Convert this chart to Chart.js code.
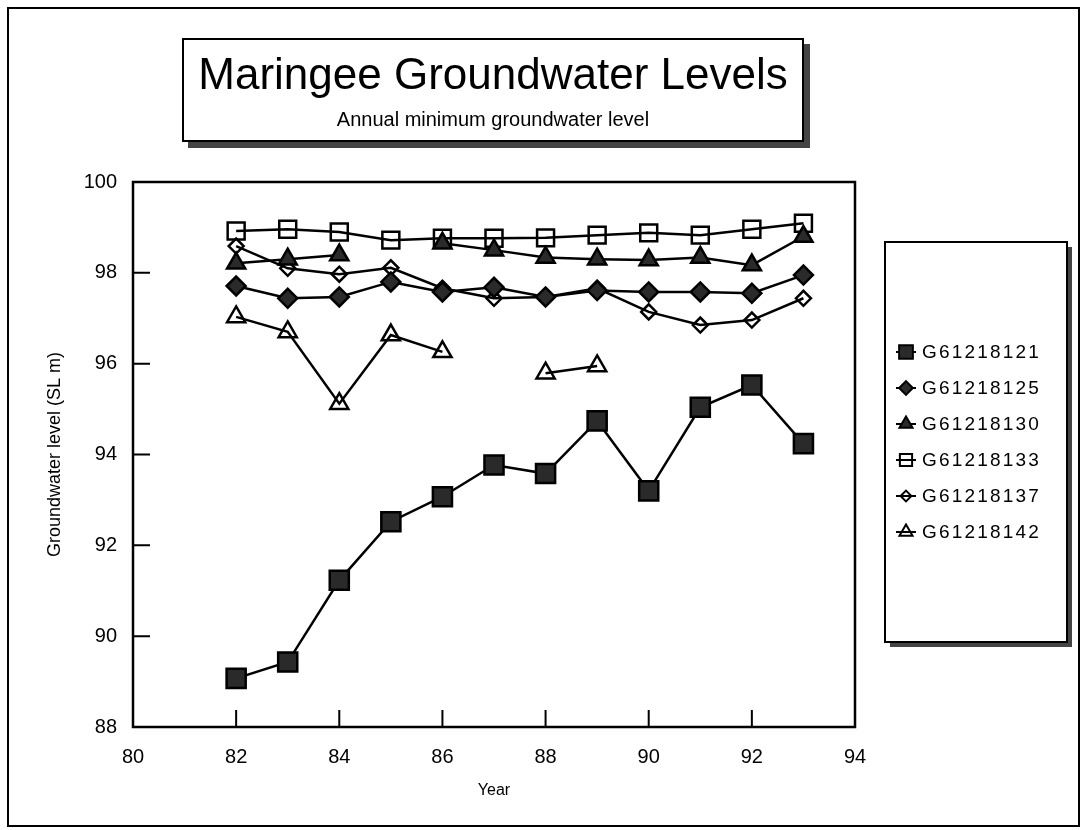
<!DOCTYPE html>
<html><head><meta charset="utf-8">
<script src="https://cdn.jsdelivr.net/npm/chart.js@4.4.0/dist/chart.umd.min.js"></script>
<style>
html,body{margin:0;padding:0;background:#fff;}
#wrap{position:relative;width:1087px;height:830px;overflow:hidden;}
#frame{position:absolute;left:7px;top:7px;width:1073px;height:820px;border:2px solid #000;box-sizing:border-box;pointer-events:none;}
#titlebox{position:absolute;left:182px;top:38px;width:622px;height:104px;border:2px solid #000;box-sizing:border-box;background:#fff;box-shadow:6px 6px 0 #444;font-family:"Liberation Sans",Arial,sans-serif;text-align:center;color:#000;}
#t1{font-size:44px;line-height:50px;margin-top:9px;white-space:nowrap;}
#t2{font-size:20px;line-height:22px;margin-top:9px;white-space:nowrap;}
canvas{position:absolute;left:0;top:0;}
</style></head>
<body><div id="wrap"><canvas id="c" width="1087" height="830"></canvas><div id="frame"></div>
<div id="titlebox"><div id="t1">Maringee Groundwater Levels</div><div id="t2">Annual minimum groundwater level</div></div></div>
<script>
const years = [82,83,84,85,86,87,88,89,90,91,92,93];
const seriesNames = ["G61218121","G61218125","G61218130","G61218133","G61218137","G61218142"];
const g121 = [89.07,89.43,91.23,92.52,93.07,93.77,93.58,94.74,93.20,95.04,95.53,94.24];
const g125 = [97.71,97.44,97.47,97.80,97.58,97.68,97.47,97.61,97.58,97.58,97.55,97.95];
const g130 = [98.21,98.30,98.39,null,98.65,98.50,98.34,98.30,98.28,98.34,98.17,98.80];
const g133 = [98.92,98.96,98.90,98.72,98.76,98.76,98.77,98.83,98.88,98.83,98.96,99.09];
const g137 = [98.59,98.10,97.97,98.11,97.66,97.44,97.47,97.66,97.14,96.85,96.96,97.44];
const g142 = [97.03,96.70,95.12,96.63,96.26,null,95.79,95.95,null,null,null,null];
const xTicks = [80,82,84,86,88,90,92,94];
const yTicks = [88,90,92,94,96,98,100];

const seriesValues = [g121,g125,g130,g133,g137,g142];
const markerStyles = [
  {pointStyle:'rect', radius:13.5, fill:'#2a2a2a'},
  {pointStyle:'rectRot', radius:9.5, fill:'#2a2a2a'},
  {pointStyle:'triangle', radius:10.5, fill:'#2a2a2a'},
  {pointStyle:'rect', radius:12, fill:'rgba(0,0,0,0)'},
  {pointStyle:'rectRot', radius:7.5, fill:'rgba(0,0,0,0)'},
  {pointStyle:'triangle', radius:10.5, fill:'rgba(0,0,0,0)'}
];
const FONT = '"Liberation Sans", Arial, sans-serif';

const datasets = seriesNames.map((name,i)=>({
  label:name,
  data: years.map((yr,j)=>({x:yr, y:seriesValues[i][j]})),
  borderColor:'#000', borderWidth:2.5,
  pointStyle:markerStyles[i].pointStyle,
  pointRadius:markerStyles[i].radius,
  pointBackgroundColor:markerStyles[i].fill,
  pointBorderColor:'#000', pointBorderWidth:2.5,
  spanGaps:false, tension:0, fill:false
}));

const frameTicks = {
  id:'frameTicks',
  beforeDatasetsDraw(chart){
    const {ctx, chartArea:a, scales:{x,y}} = chart;
    ctx.save();
    ctx.strokeStyle='#000';
    ctx.lineWidth=2.5;
    ctx.strokeRect(a.left,a.top,a.right-a.left,a.bottom-a.top);
    ctx.lineWidth=2;
    ctx.beginPath();
    xTicks.forEach(v=>{ if(v===xTicks[0]||v===xTicks[xTicks.length-1]) return;
      const px=x.getPixelForValue(v); ctx.moveTo(px,a.bottom); ctx.lineTo(px,a.bottom-17); });
    yTicks.forEach(v=>{ if(v===yTicks[0]||v===yTicks[yTicks.length-1]) return;
      const py=y.getPixelForValue(v); ctx.moveTo(a.left,py); ctx.lineTo(a.left+17,py); });
    ctx.stroke();
    ctx.restore();
  }
};

const legendBox = {
  id:'legendBox',
  afterDraw(chart){
    const ctx=chart.ctx; const L=885,T=242,W=182,H=400;
    ctx.save();
    ctx.fillStyle='#444'; ctx.fillRect(L+5,T+5,W,H);
    ctx.fillStyle='#fff'; ctx.fillRect(L,T,W,H);
    ctx.lineWidth=2; ctx.strokeStyle='#000'; ctx.strokeRect(L,T,W,H);
    const items=chart.data.datasets; const sp=36;
    const y0=T+H/2-sp*(items.length-1)/2;
    items.forEach((ds,i)=>{
      const y=y0+i*sp, mx=906;
      ctx.strokeStyle='#000'; ctx.lineWidth=2;
      ctx.beginPath(); ctx.moveTo(mx-10,y); ctx.lineTo(mx+10,y); ctx.stroke();
      ctx.fillStyle=ds.pointBackgroundColor;
      Chart.helpers.drawPoint(ctx,{pointStyle:ds.pointStyle, radius:ds.pointRadius*0.72, borderWidth:2, rotation:0},mx,y);
      ctx.fillStyle='#000'; ctx.font='19px '+FONT; ctx.textBaseline='middle'; ctx.textAlign='left';
      if ('letterSpacing' in ctx) ctx.letterSpacing='2.2px';
      ctx.fillText(ds.label, 922, y+1);
      if ('letterSpacing' in ctx) ctx.letterSpacing='0px';
    });
    ctx.restore();
  }
};

new Chart(document.getElementById('c'), {
  type:'line',
  data:{datasets},
  plugins:[frameTicks, legendBox],
  options:{
    responsive:false, animation:false, devicePixelRatio:1,
    layout:{padding:{left:0, top:182, right:232, bottom:0}},
    plugins:{legend:{display:false}, tooltip:{enabled:false}, title:{display:false}},
    scales:{
      x:{type:'linear', min:80, max:94,
        afterFit(s){ s.height=103; },
        afterBuildTicks(s){ s.ticks=xTicks.map(v=>({value:v})); },
        grid:{display:false, drawTicks:false}, border:{display:false},
        ticks:{color:'#000', font:{family:FONT, size:20}, padding:18, maxRotation:0, autoSkip:false},
        title:{display:true, text:'Year', color:'#000', font:{family:FONT, size:16}, padding:{top:0,bottom:30}}
      },
      y:{type:'linear', min:88, max:100,
        afterFit(s){ s.width=133; },
        afterBuildTicks(s){ s.ticks=yTicks.map(v=>({value:v})); },
        grid:{display:false, drawTicks:false}, border:{display:false},
        ticks:{color:'#000', font:{family:FONT, size:20}, padding:16, autoSkip:false},
        title:{display:true, text:'Groundwater level (SL m)', color:'#000', font:{family:FONT, size:18}, padding:{top:44,bottom:0}}
      }
    }
  }
});
</script></body></html>
